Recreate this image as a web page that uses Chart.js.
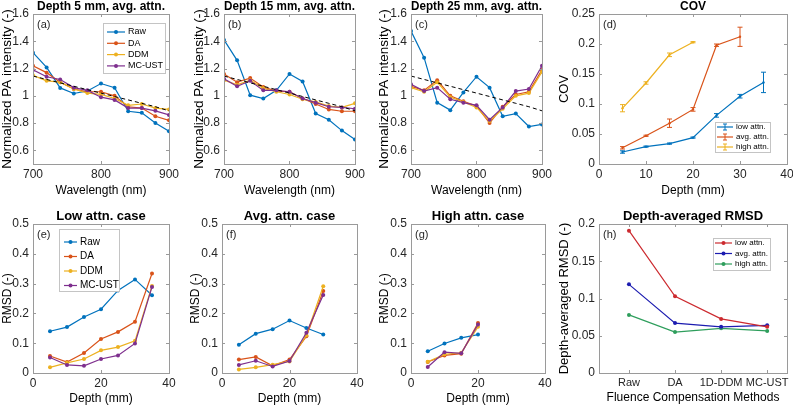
<!DOCTYPE html>
<html>
<head>
<meta charset="utf-8">
<script src="https://cdn.jsdelivr.net/npm/chart.js@4.4.0/dist/chart.umd.min.js"></script>
<style>
  html, body { margin: 0; padding: 0; background: #fff; overflow: hidden; }
  #fig { position: relative; width: 793px; height: 407px; overflow: hidden; }
  #fig canvas { position: absolute; }
</style>
</head>
<body>
<div id="fig"></div>
<script>
// ---- data ----
const wavelengths = [700, 720, 740, 760, 780, 800, 820, 840, 860, 880, 900];
const refSpectrum = [1.145, 1.12, 1.095, 1.07, 1.045, 1.02, 0.995, 0.97, 0.945, 0.92, 0.89];

// (a) depth 5 mm
const rawD5 = [1.316, 1.208, 1.058, 1.017, 1.036, 1.09, 1.06, 0.887, 0.875, 0.80, 0.74];
const daD5  = [1.22, 1.17, 1.10, 1.05, 1.03, 1.03, 1.00, 0.92, 0.91, 0.85, 0.82];
const ddmD5 = [1.15, 1.11, 1.10, 1.05, 1.02, 1.01, 0.98, 0.93, 0.94, 0.91, 0.90];
const mcD5  = [1.19, 1.14, 1.12, 1.06, 1.04, 0.99, 0.97, 0.91, 0.91, 0.89, 0.86];

// (b) depth 15 mm
const rawD15 = [1.41, 1.26, 1.005, 0.98, 1.04, 1.16, 1.105, 0.87, 0.825, 0.745, 0.68];
const daD15  = [1.16, 1.10, 1.13, 1.065, 1.035, 1.03, 0.98, 0.94, 0.90, 0.887, 0.887];
const ddmD15 = [1.115, 1.08, 1.115, 1.055, 1.03, 1.01, 0.975, 0.955, 0.925, 0.915, 0.945];
const mcD15  = [1.125, 1.07, 1.11, 1.04, 1.04, 1.03, 0.98, 0.95, 0.92, 0.915, 0.905];

// (c) depth 25 mm
const rawD25 = [1.475, 1.28, 0.95, 0.895, 1.025, 1.14, 1.06, 0.85, 0.87, 0.775, 0.79];
const daD25  = [1.07, 1.04, 1.115, 1.00, 0.96, 0.925, 0.80, 0.92, 1.01, 1.03, 1.19];
const ddmD25 = [1.06, 1.03, 1.10, 0.99, 0.955, 0.915, 0.815, 0.905, 1.00, 1.02, 1.175];
const mcD25  = [1.085, 1.035, 1.06, 0.975, 0.95, 0.93, 0.825, 0.915, 1.035, 1.05, 1.22];

// (d) COV
const depths = [5, 10, 15, 20, 25, 30, 35];
const covLow     = [0.020, 0.029, 0.034, 0.044, 0.081, 0.113, 0.136];
const covLowErr  = [0.002, 0.001, 0.001, 0.001, 0.003, 0.003, 0.017];
const covAvg     = [0.027, 0.047, 0.068, 0.091, 0.198, 0.212];
const covAvgErr  = [0.002, 0.001, 0.007, 0.003, 0.002, 0.016];
const covHigh    = [0.093, 0.135, 0.182, 0.203];
const covHighErr = [0.006, 0.002, 0.003, 0.001];

// (e) low attn. RMSD
const rmsdLowRaw = [0.140, 0.154, 0.188, 0.214, 0.277, 0.314, 0.261];
const rmsdLowDA  = [0.057, 0.037, 0.067, 0.114, 0.138, 0.172, 0.334];
const rmsdLowDDM = [0.019, 0.034, 0.047, 0.076, 0.087, 0.108, 0.292];
const rmsdLowMC  = [0.052, 0.027, 0.024, 0.047, 0.059, 0.099, 0.289];

// (f) avg. attn. RMSD
const rmsdAvgRaw = [0.095, 0.132, 0.147, 0.176, 0.151, 0.129];
const rmsdAvgDA  = [0.045, 0.054, 0.024, 0.045, 0.123, 0.275];
const rmsdAvgDDM = [0.012, 0.019, 0.028, 0.039, 0.127, 0.291];
const rmsdAvgMC  = [0.027, 0.041, 0.022, 0.040, 0.135, 0.262];

// (g) high attn. RMSD
const rmsdHighRaw = [0.073, 0.099, 0.118, 0.129];
const rmsdHighDA  = [0.037, 0.059, 0.065, 0.168];
const rmsdHighDDM = [0.038, 0.063, 0.068, 0.155];
const rmsdHighMC  = [0.020, 0.070, 0.066, 0.163];

// (h) depth-averaged RMSD
const methods = ['Raw', 'DA', '1D-DDM', 'MC-UST'];
const methodPos = [1, 2, 3, 4];
const avgRmsdLow  = [0.191, 0.103, 0.0726, 0.062];
const avgRmsdAvg  = [0.119, 0.067, 0.062, 0.064];
const avgRmsdHigh = [0.078, 0.055, 0.060, 0.0565];

// tick labels
const wlTicks = [700, 800, 900];
const piTicks = [0.6, 0.8, 1, 1.2, 1.4, 1.6];
const covTicks = [0, 0.05, 0.1, 0.15, 0.2, 0.25];
const covDepthTicks = [0, 10, 20, 30, 40];
const depthTicks = [0, 20, 40];
const rmsdTicks = [0, 0.1, 0.2, 0.3, 0.4, 0.5];
const avgRmsdTicks = [0, 0.05, 0.1, 0.15, 0.2];

// ---- styling ----
const C = { raw: '#0072BD', da: '#D95319', ddm: '#EDB120', mc: '#7E2F8E' };
const H = { low: '#cc2a2f', avg: '#1c1cb0', high: '#2e9e5c' };
const FONT = '"Liberation Sans", Arial, Helvetica, sans-serif';
Chart.defaults.font.family = FONT;
Chart.defaults.color = '#262626';

const pts = (xs, ys) => ys.map((y, i) => ({ x: xs[i], y: y }));
const fmt = v => String(Math.round(v * 1000) / 1000);

function line(label, xs, ys, color, extra) {
  return Object.assign({
    label: label, data: pts(xs, ys), borderColor: color, backgroundColor: color,
    borderWidth: 1.2, pointRadius: 2, pointBorderWidth: 0, pointBackgroundColor: color,
    tension: 0, fill: false
  }, extra || {});
}
function refLine(xs, ys) {
  return { label: '', noLegend: true, data: pts(xs, ys), borderColor: '#000', borderWidth: 1,
           borderDash: [4, 3], pointRadius: 0, fill: false, tension: 0 };
}

// axes box with inward ticks, MATLAB style
const matlabBox = {
  id: 'matlabBox',
  afterDatasetsDraw(chart) {
    const ctx = chart.ctx, a = chart.chartArea, xs = chart.scales.x, ys = chart.scales.y;
    ctx.save();
    ctx.strokeStyle = '#9a9a9a';
    ctx.lineWidth = 1;
    ctx.strokeRect(Math.round(a.left) + 0.5, Math.round(a.top) + 0.5,
                   Math.round(a.right - a.left), Math.round(a.bottom - a.top));
    ctx.beginPath();
    xs.ticks.forEach(t => {
      const p = Math.round(xs.getPixelForValue(t.value)) + 0.5;
      ctx.moveTo(p, a.bottom); ctx.lineTo(p, a.bottom - 3);
      ctx.moveTo(p, a.top); ctx.lineTo(p, a.top + 3);
    });
    ys.ticks.forEach(t => {
      const p = Math.round(ys.getPixelForValue(t.value)) + 0.5;
      ctx.moveTo(a.left, p); ctx.lineTo(a.left + 3, p);
      ctx.moveTo(a.right, p); ctx.lineTo(a.right - 3, p);
    });
    ctx.stroke();
    ctx.restore();
  }
};

// vertical error bars for datasets carrying an err array
const errBars = {
  id: 'errBars',
  afterDatasetsDraw(chart) {
    const ctx = chart.ctx, ys = chart.scales.y;
    chart.data.datasets.forEach((ds, i) => {
      if (!ds.err) return;
      const meta = chart.getDatasetMeta(i);
      ctx.save();
      ctx.strokeStyle = ds.borderColor;
      ctx.lineWidth = 1;
      ctx.beginPath();
      meta.data.forEach((el, j) => {
        const v = ds.data[j].y, e = ds.err[j];
        const y1 = ys.getPixelForValue(v + e), y2 = ys.getPixelForValue(v - e);
        ctx.moveTo(el.x, y1); ctx.lineTo(el.x, y2);
        ctx.moveTo(el.x - 2.5, y1); ctx.lineTo(el.x + 2.5, y1);
        ctx.moveTo(el.x - 2.5, y2); ctx.lineTo(el.x + 2.5, y2);
      });
      ctx.stroke();
      ctx.restore();
    });
  }
};

// boxed legend inside the axes
const boxLegend = {
  id: 'boxLegend',
  afterDraw(chart, args, o) {
    if (!o || !o.w) return;
    const ctx = chart.ctx, a = chart.chartArea;
    const x0 = Math.round(a.left + o.x), y0 = Math.round(a.top + o.y);
    ctx.save();
    ctx.fillStyle = '#fff';
    ctx.fillRect(x0, y0, o.w, o.h);
    ctx.strokeStyle = '#c4c4c4';
    ctx.lineWidth = 1;
    ctx.strokeRect(x0 + 0.5, y0 + 0.5, o.w, o.h);
    ctx.font = o.size + 'px ' + FONT;
    ctx.textBaseline = 'middle';
    ctx.textAlign = 'left';
    chart.data.datasets.filter(d => !d.noLegend).forEach((d, i) => {
      const yy = y0 + o.first + i * o.rowH;
      ctx.strokeStyle = d.borderColor;
      ctx.lineWidth = 1.2;
      ctx.beginPath();
      ctx.moveTo(x0 + o.l0, yy); ctx.lineTo(x0 + o.l1, yy);
      ctx.stroke();
      const xm = x0 + (o.l0 + o.l1) / 2;
      if (o.err) {
        ctx.lineWidth = 1;
        ctx.beginPath();
        ctx.moveTo(xm, yy - 3); ctx.lineTo(xm, yy + 3);
        ctx.moveTo(xm - 2, yy - 3); ctx.lineTo(xm + 2, yy - 3);
        ctx.moveTo(xm - 2, yy + 3); ctx.lineTo(xm + 2, yy + 3);
        ctx.stroke();
      } else {
        ctx.fillStyle = d.borderColor;
        ctx.beginPath(); ctx.arc(xm, yy, 2, 0, Math.PI * 2); ctx.fill();
      }
      ctx.fillStyle = '#000';
      ctx.fillText(d.label, x0 + o.tx, yy);
    });
    ctx.restore();
  }
};

// panel letter in the top-left corner
const panelTag = {
  id: 'panelTag',
  afterDraw(chart, args, o) {
    if (!o || !o.text) return;
    const ctx = chart.ctx, a = chart.chartArea;
    ctx.save();
    ctx.font = '11px ' + FONT;
    ctx.fillStyle = '#262626';
    ctx.textBaseline = 'middle';
    ctx.fillText(o.text, a.left + 4, a.top + 11);
    ctx.restore();
  }
};

Chart.register(matlabBox, errBars, boxLegend, panelTag);

const fig = document.getElementById('fig');

function panel(p) {
  const tSize = p.titleSize || 12, ySize = p.yTitleSize || 12;
  const tlh = tSize * 1.2, ylh = ySize * 1.2, xlh = 12 * 1.2;
  const top = p.T - 16;
  const left = Math.round(p.yTitleX - ylh / 2);
  const bottom = p.xTitleY + xlh / 2;
  const width = p.R + 12 - left;
  const height = Math.round(bottom - top);
  const cv = document.createElement('canvas');
  cv.width = width; cv.height = height;
  cv.style.left = left + 'px'; cv.style.top = top + 'px';
  cv.style.width = width + 'px'; cv.style.height = height + 'px';
  fig.appendChild(cv);
  const yw = p.L - left, xh = top + height - p.B;
  new Chart(cv, {
    type: 'line',
    data: { datasets: p.datasets },
    options: {
      responsive: false, animation: false, events: [],
      layout: { padding: { left: 0, right: 12, top: 16 - tlh, bottom: 0 } },
      plugins: {
        legend: { display: false }, tooltip: { enabled: false },
        title: { display: true, text: p.title, fullSize: false, color: '#000',
                 font: { size: tSize, weight: 'bold' }, padding: { top: 0, bottom: 0 } },
        boxLegend: p.legend || {},
        panelTag: { text: p.tag }
      },
      scales: {
        x: {
          type: 'linear', min: p.xMin, max: p.xMax,
          afterBuildTicks: s => { s.ticks = p.xTicks.map(v => ({ value: v })); },
          afterFit: s => { s.height = xh; },
          grid: { display: false, drawTicks: false }, border: { display: false },
          ticks: { padding: 3, autoSkip: false, maxRotation: 0, font: { size: p.xTickSize || 12 },
                   callback: p.xLabel || fmt },
          title: { display: true, text: p.xTitle, padding: 0, color: '#000', font: { size: 12 } }
        },
        y: {
          type: 'linear', min: p.yMin, max: p.yMax,
          afterBuildTicks: s => { s.ticks = p.yTicks.map(v => ({ value: v })); },
          afterFit: s => { s.width = yw; },
          grid: { display: false, drawTicks: false }, border: { display: false },
          ticks: { padding: 4, autoSkip: false, font: { size: 12 }, callback: fmt },
          title: { display: true, text: p.yTitle, padding: 0, color: '#000',
                   font: { size: ySize } }
        }
      }
    }
  });
}

function spectra(raw, da, ddm, mc) {
  const ds = [
    line('Raw', wavelengths, raw, C.raw),
    line('DA', wavelengths, da, C.da),
    line('DDM', wavelengths, ddm, C.ddm),
    line('MC-UST', wavelengths, mc, C.mc),
    refLine(wavelengths, refSpectrum)
  ];
  ds.forEach((d, i) => { d.order = ds.length - i; });
  return ds;
}
function rmsdSet(xs, raw, da, ddm, mc) {
  const ds = [
    line('Raw', xs, raw, C.raw),
    line('DA', xs, da, C.da),
    line('DDM', xs, ddm, C.ddm),
    line('MC-UST', xs, mc, C.mc)
  ];
  ds.forEach((d, i) => { d.order = ds.length - i; });
  return ds;
}

const topRow = { T: 14, B: 164, xTitleY: 191, xMin: 700, xMax: 900, xTicks: wlTicks,
                 yMin: 0.5, yMax: 1.6, yTicks: piTicks, xTitle: 'Wavelength (nm)',
                 yTitle: 'Normalized PA intensity (-)', yTitleSize: 13.5 };
const botRow = { T: 224, B: 373, xTitleY: 399, xMin: 0, xMax: 40, xTicks: depthTicks,
                 yMin: 0, yMax: 0.5, yTicks: rmsdTicks, xTitle: 'Depth (mm)', yTitle: 'RMSD (-)',
                 titleSize: 13 };

panel(Object.assign({}, topRow, {
  L: 33, R: 170, yTitleX: 7, title: 'Depth 5 mm, avg. attn.', tag: '(a)',
  datasets: spectra(rawD5, daD5, ddmD5, mcD5),
  legend: { x: 70, y: 9, w: 62, h: 50, first: 9, rowH: 11.3, l0: 4, l1: 22, tx: 25, size: 9 }
}));
panel(Object.assign({}, topRow, {
  L: 224, R: 356, yTitleX: 199, title: 'Depth 15 mm, avg. attn.', tag: '(b)',
  datasets: spectra(rawD15, daD15, ddmD15, mcD15)
}));
panel(Object.assign({}, topRow, {
  L: 411, R: 543, yTitleX: 384, title: 'Depth 25 mm, avg. attn.', tag: '(c)',
  datasets: spectra(rawD25, daD25, ddmD25, mcD25)
}));

const covSets = [
  line('low attn.', depths, covLow, C.raw, { err: covLowErr, pointRadius: 1.2 }),
  line('avg. attn.', depths, covAvg, C.da, { err: covAvgErr, pointRadius: 1.2 }),
  line('high attn.', depths, covHigh, C.ddm, { err: covHighErr, pointRadius: 1.2 })
];
panel({
  T: 14, B: 164, xTitleY: 191, L: 599, R: 787, yTitleX: 565,
  xMin: 0, xMax: 40, xTicks: covDepthTicks, yMin: 0, yMax: 0.25, yTicks: covTicks,
  title: 'COV', xTitle: 'Depth (mm)', yTitle: 'COV', yTitleSize: 13, tag: '(d)', datasets: covSets,
  legend: { x: 116, y: 108, w: 55, h: 30, first: 5, rowH: 10, l0: 2, l1: 18, tx: 21, size: 8, err: true }
});

panel(Object.assign({}, botRow, {
  L: 33, R: 169, yTitleX: 7, title: 'Low attn. case', tag: '(e)',
  datasets: rmsdSet(depths, rmsdLowRaw, rmsdLowDA, rmsdLowDDM, rmsdLowMC),
  legend: { x: 26, y: 5, w: 60, h: 62, first: 13, rowH: 14.5, l0: 5, l1: 18, tx: 21, size: 10 }
}));
panel(Object.assign({}, botRow, {
  L: 222, R: 357, yTitleX: 195, title: 'Avg. attn. case', tag: '(f)',
  datasets: rmsdSet(depths, rmsdAvgRaw, rmsdAvgDA, rmsdAvgDDM, rmsdAvgMC)
}));
panel(Object.assign({}, botRow, {
  L: 411, R: 545, yTitleX: 384, title: 'High attn. case', tag: '(g)',
  datasets: rmsdSet(depths, rmsdHighRaw, rmsdHighDA, rmsdHighDDM, rmsdHighMC)
}));

const hSets = [
  line('low attn.', methodPos, avgRmsdLow, H.low),
  line('avg. attn.', methodPos, avgRmsdAvg, H.avg),
  line('high attn.', methodPos, avgRmsdHigh, H.high)
];
panel({
  T: 224, B: 373, xTitleY: 398, L: 599, R: 787, yTitleX: 565,
  xMin: 0.35, xMax: 4.43, xTicks: methodPos, xLabel: v => methods[v - 1], xTickSize: 11,
  yMin: 0, yMax: 0.2, yTicks: avgRmsdTicks,
  title: 'Depth-averaged RMSD', titleSize: 13, xTitle: 'Fluence Compensation Methods',
  yTitle: 'Depth-averaged RMSD (-)', yTitleSize: 13, tag: '(h)', datasets: hSets,
  legend: { x: 114, y: 14, w: 57, h: 32, first: 5, rowH: 10.5, l0: 2, l1: 19, tx: 22, size: 8 }
});
</script>
</body>
</html>
